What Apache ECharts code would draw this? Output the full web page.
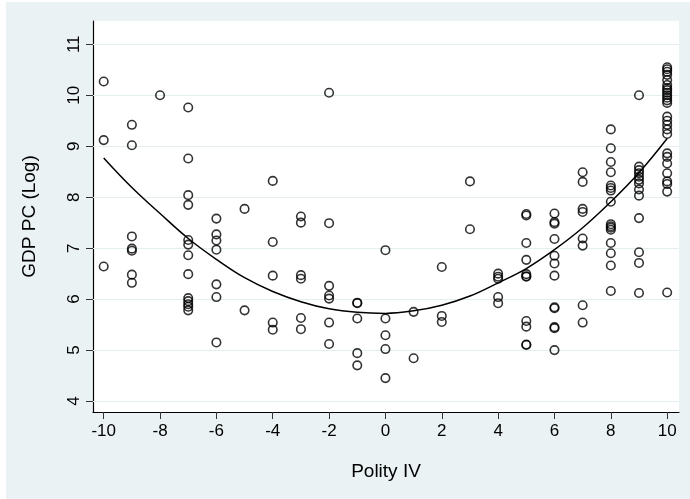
<!DOCTYPE html>
<html>
<head>
<meta charset="utf-8">
<script src="https://cdn.jsdelivr.net/npm/echarts@6/dist/echarts.min.js"></script>
<style>
html, body { margin: 0; padding: 0; background: #ffffff; width: 690px; height: 499px; overflow: hidden; }
#chart { position: absolute; left: 6px; top: 2px; width: 684px; height: 497px; }
</style>
</head>
<body>
<div id="chart"></div>
<script>
// Polity IV score levels (x categories)
const polityLevels = [-10, -9, -8, -7, -6, -5, -4, -3, -2, -1, 0, 1, 2, 3, 4, 5, 6, 7, 8, 9, 10];

// Log GDP per capita observed at each polity level
const gdpByPolity = [
  [10.27, 9.12, 6.64],
  [9.42, 9.02, 7.23, 6.99, 6.95, 6.48, 6.32],
  [10.0],
  [9.76, 8.76, 8.04, 7.85, 7.16, 7.07, 6.86, 6.49, 6.02, 5.96, 5.90, 5.85, 5.78],
  [7.58, 7.27, 7.15, 6.97, 6.29, 6.04, 5.15],
  [7.77, 5.78],
  [8.32, 7.12, 6.46, 5.54, 5.40],
  [7.62, 7.50, 6.47, 6.40, 5.63, 5.41],
  [10.05, 7.49, 6.26, 6.07, 6.01, 5.54, 5.12],
  [5.93, 5.92, 5.62, 4.94, 4.70],
  [6.96, 5.62, 5.29, 5.02, 4.45],
  [5.75, 4.84],
  [6.63, 5.67, 5.55],
  [8.31, 7.37],
  [6.50, 6.44, 6.40, 6.04, 5.92],
  [7.67, 7.64, 7.10, 6.77, 6.49, 6.45, 6.44, 5.57, 5.46, 5.11, 5.10],
  [7.68, 7.51, 7.48, 7.18, 6.85, 6.70, 6.46, 5.84, 5.82, 5.45, 5.43, 5.00],
  [8.49, 8.30, 7.77, 7.71, 7.19, 7.05, 5.88, 5.54],
  [9.33, 8.96, 8.69, 8.49, 8.23, 8.18, 8.13, 7.91, 7.47, 7.43, 7.40, 7.36, 7.10, 6.90, 6.66, 6.16],
  [10.0, 8.60, 8.53, 8.47, 8.40, 8.34, 8.27, 8.15, 8.03, 7.59, 6.92, 6.71, 6.12],
  [10.55, 10.51, 10.46, 10.40, 10.30, 10.20, 10.14, 10.10, 10.05, 10.00, 9.95, 9.90, 9.85,
   9.58, 9.50, 9.42, 9.33, 9.24, 8.86, 8.79, 8.66, 8.47, 8.31, 8.26, 8.11, 6.13]
];

// Fitted (quadratic) line, one value per polity level
const fitValues = [8.77, 8.19, 7.68, 7.19, 6.78, 6.42, 6.15, 5.95, 5.81, 5.74, 5.72,
                   5.77, 5.88, 6.06, 6.32, 6.60, 6.97, 7.40, 7.91, 8.48, 9.15];

// Tick labels
const xTicks = [-10, -8, -6, -4, -2, 0, 2, 4, 6, 8, 10];
const yTicks = [4, 5, 6, 7, 8, 9, 10, 11];

const xTitle = 'Polity IV';
const yTitle = 'GDP PC (Log)';

const scatterData = [];
polityLevels.forEach((p, i) => {
  gdpByPolity[i].forEach(v => scatterData.push([p, v]));
});
const fitData = polityLevels.map((p, i) => [p, fitValues[i]]);

const FONT = 'Liberation Sans, Arial, sans-serif';
const chart = echarts.init(document.getElementById('chart'), null, { renderer: 'canvas' });

chart.setOption({
  animation: false,
  backgroundColor: '#EAF2F4',
  grid: {
    left: 87, right: 11, top: 19, bottom: 87,
    show: true, backgroundColor: '#ffffff', borderWidth: 0
  },
  xAxis: {
    type: 'value',
    min: -10.38, max: 10.42,
    name: xTitle,
    nameLocation: 'middle',
    nameGap: 50,
    nameTextStyle: { fontFamily: FONT, fontSize: 19, color: '#000' },
    axisLine: { show: true, onZero: false, lineStyle: { color: '#000', width: 1.2 } },
    axisTick: { show: true, length: 7, customValues: xTicks, lineStyle: { color: '#333', width: 1 } },
    axisLabel: { customValues: xTicks, fontFamily: FONT, fontSize: 17, color: '#000', margin: 11 },
    splitLine: { show: false }
  },
  yAxis: {
    type: 'value',
    min: 3.785, max: 11.457,
    name: yTitle,
    nameLocation: 'middle',
    nameGap: 54,
    nameRotate: 90,
    nameTextStyle: { fontFamily: FONT, fontSize: 19, color: '#000' },
    axisLine: { show: true, onZero: false, lineStyle: { color: '#000', width: 1.2 } },
    axisTick: { show: true, length: 7, customValues: yTicks, lineStyle: { color: '#333', width: 1 } },
    axisLabel: { customValues: yTicks, rotate: 90, fontFamily: FONT, fontSize: 17, color: '#000', margin: 10 },
    splitLine: { show: false }
  },
  series: [
    {
      type: 'line',
      data: [],
      silent: true,
      z: 1,
      markLine: {
        silent: true,
        z: 1,
        symbol: 'none',
        label: { show: false },
        lineStyle: { color: '#E4EEF1', width: 1.2, type: 'solid' },
        data: yTicks.map(v => ({ yAxis: v }))
      }
    },
    {
      type: 'scatter',
      data: scatterData,
      symbol: 'circle',
      symbolSize: 8.5,
      z: 6,
      itemStyle: { color: 'rgba(0,0,0,0)', borderColor: '#000', borderWidth: 1.6 }
    },
    {
      type: 'line',
      data: fitData,
      smooth: 0.4,
      showSymbol: false,
      z: 7,
      lineStyle: { color: '#000', width: 1.5 }
    }
  ]
});
</script>
</body>
</html>
